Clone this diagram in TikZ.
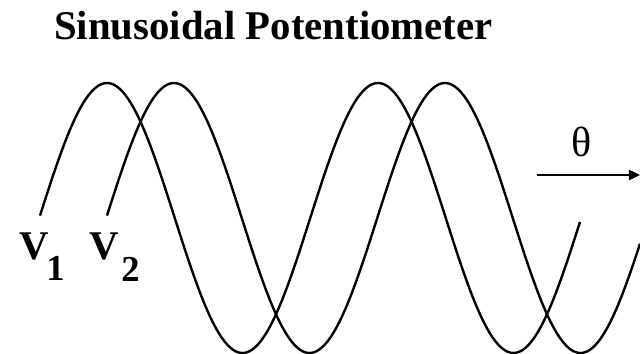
\documentclass[tikz,border=0pt]{standalone}
\usepackage{fontspec}
\setmainfont{Liberation Serif}
\usetikzlibrary{arrows.meta}
\begin{document}
\begin{tikzpicture}[x=0.025cm, y=-0.025cm]
  \tikzset{wire/.style={line width=1.7pt, line join=round},
           big/.style={font=\fontsize{29}{34}\selectfont\bfseries, inner sep=0pt, anchor=base west},
           sub/.style={font=\fontsize{26}{30}\selectfont\bfseries, inner sep=0pt, anchor=base west}}
  \useasboundingbox (0,0) rectangle (640,354);

  \node[big] (title) at (54,40) {Sinusoidal Potentiometer};

  % first winding
  \draw[wire] plot[domain=40:580, samples=240] (\x, {218-135*sin(1.3284*(\x-39.25))});
  % second winding
  \draw[wire] plot[domain=107:640, samples=240] (\x, {218-135*sin(1.3284*(\x-106.25))});

  \node[big] (v1) at (19,260) {V};
  \node[sub] (s1) at (46,281) {1};
  \node[big] (v2) at (89,260) {V};
  \node[sub] (s2) at (121,282) {2};

  \node[font=\fontsize{30}{34}\selectfont, inner sep=0pt] (theta) at (582,142) {θ};
  \coordinate (thstart) at (537,175);
  \coordinate (thend) at (640,175);
  \draw[line width=1pt, -{Triangle[length=8pt, width=7.5pt]}] (thstart) -- (thend);
\end{tikzpicture}
\end{document}
